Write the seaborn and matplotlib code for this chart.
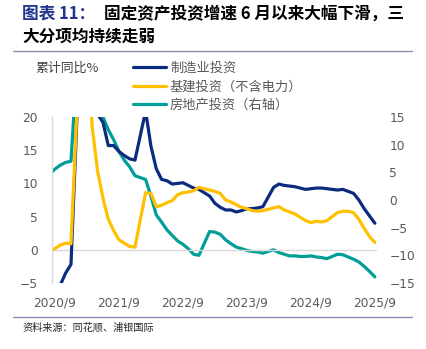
import numpy as np
import pandas as pd
import matplotlib
matplotlib.use("Agg")
import matplotlib.pyplot as plt
import seaborn as sns
from matplotlib.lines import Line2D

# ---------------- data ----------------
dates = [
    "2020/8", "2020/9", "2020/10", "2020/11", "2020/12",
    "2021/2", "2021/3", "2021/4", "2021/5", "2021/6", "2021/7", "2021/8", "2021/9", "2021/10", "2021/11", "2021/12",
    "2022/2", "2022/3", "2022/4", "2022/5", "2022/6", "2022/7", "2022/8", "2022/9", "2022/10", "2022/11", "2022/12",
    "2023/2", "2023/3", "2023/4", "2023/5", "2023/6", "2023/7", "2023/8", "2023/9", "2023/10", "2023/11", "2023/12",
    "2024/2", "2024/3", "2024/4", "2024/5", "2024/6", "2024/7", "2024/8", "2024/9", "2024/10", "2024/11", "2024/12",
    "2025/2", "2025/3", "2025/4", "2025/5", "2025/6", "2025/7", "2025/8", "2025/9",
]
manufacturing = [
    -8.1, -6.5, -5.3, -3.5, -2.2,
    37.3, 29.8, 23.8, 20.4, 19.2, 15.7, 15.7, 14.8, 14.2, 13.7, 13.5,
    20.9, 15.6, 12.2, 10.6, 10.4, 9.9, 10.0, 10.1, 9.7, 9.3, 9.1,
    8.1, 7.0, 6.4, 6.0, 6.0, 5.7, 5.9, 6.2, 6.2, 6.3, 6.5,
    9.4, 9.9, 9.7, 9.6, 9.5, 9.3, 9.1, 9.2, 9.3, 9.3, 9.2,
    9.0, 9.1, 8.8, 8.5, 7.5, 6.2, 5.1, 4.0,
]
infrastructure = [
    -0.3, 0.2, 0.7, 1.0, 0.9,
    36.6, 29.7, 18.4, 11.8, 7.8, 4.6, 2.9, 1.5, 1.0, 0.5, 0.4,
    8.6, 8.5, 6.5, 6.7, 7.1, 7.4, 8.3, 8.6, 8.7, 8.9, 9.4,
    9.0, 8.8, 8.5, 7.5, 7.2, 6.8, 6.4, 6.2, 5.9, 5.8, 5.9,
    6.3, 6.5, 6.0, 5.7, 5.4, 4.9, 4.4, 4.1, 4.3, 4.2, 4.4,
    5.6, 5.8, 5.8, 5.6, 4.6, 3.2, 2.0, 1.1,
]
real_estate = [
    4.6, 5.6, 6.3, 6.8, 7.0,
    38.3, 25.6, 21.6, 18.3, 15.0, 12.7, 10.9, 8.8, 7.2, 6.0, 4.4,
    3.7, 0.7, -2.7, -4.0, -5.4, -6.4, -7.4, -8.0, -8.8, -9.8, -10.0,
    -5.7, -5.8, -6.2, -7.2, -7.9, -8.5, -8.8, -9.1, -9.3, -9.4, -9.6,
    -9.0, -9.5, -9.8, -10.1, -10.1, -10.2, -10.2, -10.1, -10.3, -10.4, -10.6,
    -9.8, -9.9, -10.3, -10.7, -11.2, -12.0, -12.9, -13.9,
]
series_names = ["制造业投资", "基建投资（不含电力）", "房地产投资（右轴）"]
x_tick_labels = ["2020/9", "2021/9", "2022/9", "2023/9", "2024/9", "2025/9"]
left_ticks = [-5, 0, 5, 10, 15, 20]
right_ticks = [-15, -10, -5, 0, 5, 10, 15]

# month index relative to 2020/9
def month_index(s):
    y, m = s.split("/")
    return (int(y) - 2020) * 12 + int(m) - 9

df = pd.DataFrame({
    "t": [month_index(d) for d in dates],
    "mfg": manufacturing,
    "infra": infrastructure,
    "re": real_estate,
})

# ---------------- style ----------------
sns.set_style("white")
plt.rcParams["font.family"] = ["DejaVu Sans", "Noto Sans CJK SC"]
CJK = ["Noto Sans CJK SC", "DejaVu Sans"]

NAVY = "#0B2B7E"
GOLD = "#FFC000"
TEAL = "#009E98"
TICK = "#595959"

W, H = 427, 349
fig = plt.figure(figsize=(W / 100, H / 100), dpi=100)
ax = fig.add_axes([52 / W, 1 - 283 / H, (377 - 52) / W, (283 - 117) / H])
ax2 = ax.twinx()

lw = 2.3
sns.lineplot(data=df, x="t", y="mfg", ax=ax, color=NAVY, lw=lw, legend=False)
sns.lineplot(data=df, x="t", y="infra", ax=ax, color=GOLD, lw=lw, legend=False)
sns.lineplot(data=df, x="t", y="re", ax=ax2, color=TEAL, lw=lw, legend=False)

ax.set_xlim(-0.56, 60.4)
ax.set_ylim(-5, 20)
ax2.set_ylim(-15, 15)
ax.set_yticks(left_ticks)
ax2.set_yticks(right_ticks)
ax.set_xticks([month_index(s) for s in x_tick_labels])
ax.set_xticklabels(x_tick_labels)

for a in (ax, ax2):
    for s in a.spines.values():
        s.set_visible(False)
    a.set_xlabel("")
    a.set_ylabel("")
    a.grid(False)
ax.spines["left"].set_visible(True)
ax.spines["left"].set_color("#D9D9D9")
ax.spines["left"].set_linewidth(1.0)
ax.axhline(0, color="#D9D9D9", lw=1.0, zorder=0)

ax.tick_params(axis="y", length=0, pad=10, labelsize=8.8, labelcolor=TICK)
ax.tick_params(axis="x", length=0, pad=10, labelsize=8.8, labelcolor=TICK)
ax2.tick_params(axis="y", length=0, pad=9, labelsize=8.8, labelcolor=TICK)
ax.set_zorder(ax2.get_zorder() + 1)
ax.patch.set_visible(False)

# ---------------- legend ----------------
handles = [Line2D([], [], color=c, lw=lw) for c in (NAVY, GOLD, TEAL)]
leg = fig.legend(handles, series_names, loc="upper left",
                 bbox_to_anchor=(133 / W, 1 - 62 / H), bbox_transform=fig.transFigure,
                 frameon=False, borderpad=0, borderaxespad=0,
                 handlelength=2.5, handletextpad=0.3, labelspacing=0.42,
                 prop={"family": CJK, "size": 9.5})
for t in leg.get_texts():
    t.set_color(TICK)

# ---------------- texts ----------------
fig.text(35 / W, 1 - 68 / H, "累计同比%", family=CJK, fontsize=9.3,
         color="#404040", va="center", ha="left")

fig.text(22 / W, 1 - 14 / H, "图表 11：", family=CJK, fontsize=12, fontweight="bold",
         color="#22358F", va="center", ha="left")
fig.text(104 / W, 1 - 14 / H, "固定资产投资增速 6 月以来大幅下滑，三", family=CJK,
         fontsize=12, fontweight="bold", color="black", va="center", ha="left")
fig.text(22 / W, 1 - 37 / H, "大分项均持续走弱", family=CJK, fontsize=12,
         fontweight="bold", color="black", va="center", ha="left")

fig.add_artist(Line2D([13 / W, 412 / W], [1 - 51 / H, 1 - 51 / H],
                      transform=fig.transFigure, color="#8C8CB4", lw=1.0))
fig.add_artist(Line2D([13 / W, 412 / W], [1 - 317 / H, 1 - 317 / H],
                      transform=fig.transFigure, color="#8C8CB4", lw=1.0))
fig.text(22 / W, 1 - 327 / H, "资料来源：同花顺、浦银国际", family=CJK, fontsize=7.3,
         color="#262626", va="center", ha="left")

fig.savefig("out.png", dpi=100)
